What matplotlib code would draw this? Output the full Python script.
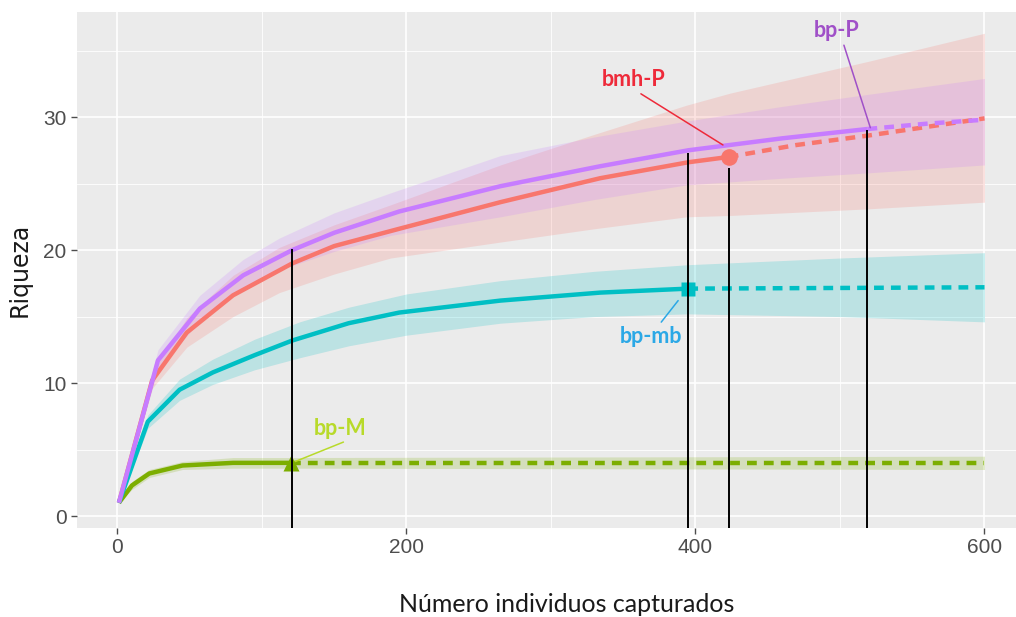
import numpy as np
import matplotlib
matplotlib.use("Agg")
import matplotlib.pyplot as plt

# bp-P (observed up to n=519, then extrapolated)
p_x = [1, 28, 57, 87, 121, 150, 195, 265, 334, 395, 460, 519]
p_y = [1, 11.7, 15.6, 18.1, 20.0, 21.3, 22.9, 24.8, 26.3, 27.5, 28.4, 29.1]
p_ext_x = [519, 560, 600]
p_ext_y = [29.1, 29.5, 29.8]
p_band_x = [1, 28, 57, 87, 112, 150, 189, 265, 330, 394, 460, 519, 600]
p_lo = [1, 11.0, 14.7, 17.1, 18.5, 19.9, 21.1, 22.5, 23.8, 24.9, 25.4, 25.8, 26.4]
p_hi = [1, 12.5, 16.6, 19.3, 20.9, 22.8, 24.3, 27.1, 28.5, 29.7, 30.8, 31.7, 32.9]

# bmh-P
r_x = [1, 24, 48, 80, 121, 150, 195, 265, 334, 395, 423]
r_y = [1, 10.2, 13.8, 16.6, 19.0, 20.3, 21.6, 23.6, 25.4, 26.6, 27.0]
r_ext_x = [423, 470, 519, 600]
r_ext_y = [27.0, 27.9, 28.6, 29.9]
r_band_x = [1, 24, 48, 80, 112, 150, 189, 265, 330, 394, 424, 520, 600]
r_lo = [1, 9.6, 12.7, 15.0, 16.8, 18.2, 19.4, 20.6, 21.6, 22.5, 22.6, 23.1, 23.6]
r_hi = [1, 10.8, 14.9, 18.1, 20.2, 21.9, 23.4, 26.4, 28.7, 30.9, 31.8, 34.2, 36.3]

# bp-mb
c_x = [1, 21, 43, 66, 95, 121, 160, 195, 265, 334, 395]
c_y = [1, 7.1, 9.5, 10.8, 12.1, 13.2, 14.5, 15.3, 16.2, 16.8, 17.1]
c_ext_x = [395, 500, 600]
c_ext_y = [17.1, 17.15, 17.2]
c_band_x = [1, 21, 43, 66, 95, 126, 160, 200, 265, 330, 395, 500, 600]
c_lo = [1, 6.6, 8.7, 9.9, 11.0, 11.9, 12.8, 13.6, 14.5, 15.0, 15.2, 15.0, 14.6]
c_hi = [1, 7.6, 10.3, 11.8, 13.3, 14.6, 15.7, 16.7, 17.7, 18.4, 18.9, 19.4, 19.8]

# bp-M
g_x = [1, 10, 22, 45, 80, 120]
g_y = [1, 2.3, 3.2, 3.8, 4.0, 4.0]
g_ext_x = [120, 600]
g_ext_y = [4.0, 4.0]
g_band_x = [1, 10, 22, 45, 80, 120, 600]
g_lo = [1, 2.0, 2.9, 3.5, 3.6, 3.6, 3.5]
g_hi = [1, 2.6, 3.5, 4.1, 4.4, 4.4, 4.5]

# vertical reference lines (sample size, top of line)
cut_x = [121, 395, 423, 519]
cut_top = [20.1, 27.3, 26.2, 29.0]

RED, GREEN, CYAN, PURPLE = "#F8766D", "#7CAE00", "#00BFC4", "#C77CFF"

tick_font = ["Liberation Sans Narrow", "Liberation Sans", "DejaVu Sans"]

fig = plt.figure(figsize=(10.16, 6.17), dpi=100)
ax = fig.add_axes([0.0758, 0.1442, 0.9242, 0.8364])
ax.set_facecolor("#EBEBEB")
ax.set_xlim(-28, 621.8)
ax.set_ylim(-0.9, 37.9)

# ggplot style grid
ax.set_xticks([0, 200, 400, 600])
ax.set_xticks([100, 300, 500], minor=True)
ax.set_yticks([0, 10, 20, 30])
ax.set_yticks([5, 15, 25, 35], minor=True)
ax.grid(which="major", color="white", lw=1.2)
ax.grid(which="minor", color="white", lw=0.6)
ax.set_axisbelow(True)
for s in ax.spines.values():
    s.set_visible(False)
ax.tick_params(which="major", length=4, width=1, color="#4D4D4D", labelcolor="#4D4D4D", labelsize=15)
ax.tick_params(which="minor", length=0)
for lab in ax.get_xticklabels() + ax.get_yticklabels():
    lab.set_family(tick_font)

# confidence bands
ax.fill_between(r_band_x, r_lo, r_hi, color=RED, alpha=0.2, lw=0)
ax.fill_between(g_band_x, g_lo, g_hi, color=GREEN, alpha=0.2, lw=0)
ax.fill_between(c_band_x, c_lo, c_hi, color=CYAN, alpha=0.2, lw=0)
ax.fill_between(p_band_x, p_lo, p_hi, color=PURPLE, alpha=0.2, lw=0)

lw = 3.2
dash = (0, (2.2, 1.6))
for xs, ys, ex, ey, col in [(r_x, r_y, r_ext_x, r_ext_y, RED),
                            (g_x, g_y, g_ext_x, g_ext_y, GREEN),
                            (c_x, c_y, c_ext_x, c_ext_y, CYAN),
                            (p_x, p_y, p_ext_x, p_ext_y, PURPLE)]:
    ax.plot(xs, ys, color=col, lw=lw, solid_capstyle="butt")
    ax.plot(ex, ey, color=col, lw=lw, linestyle=dash)

# observed sample points
ax.plot(g_x[-1], g_y[-1], marker="^", ms=11, color=GREEN, mec="none")
ax.plot(c_x[-1], c_y[-1], marker="s", ms=10, color=CYAN, mec="none")
ax.plot(r_x[-1], r_y[-1], marker="o", ms=12, color=RED, mec="none")

ax.vlines(cut_x, -0.9, cut_top, color="black", lw=1.4)

lab_font = ["Lato", "DejaVu Sans"]
notes = [
    ("bmh-P", (357, 32.8), (419, 27.9), "#EE2A3A", (0.53, 0)),
    ("bp-P", (498, 36.5), (521, 29.2), "#A050C8", (0.62, 0)),
    ("bp-mb", (369, 13.5), (388, 16.2), "#2BA8E6", (0.62, 1)),
    ("bp-M", (154, 6.6), (123, 4.1), "#B8DA2A", (0.72, 0)),
]
for txt, pos, tip, col, rp in notes:
    ax.annotate(txt, xy=tip, xytext=pos, ha="center", va="center",
                fontsize=15.5, fontweight="bold", color=col, family=lab_font,
                arrowprops=dict(arrowstyle="-", color=col, lw=1.1,
                                relpos=rp, shrinkA=1, shrinkB=0))

ax.set_ylabel("Riqueza", fontsize=17, color="#1A1A1A", labelpad=8,
              family=["DejaVu Sans"])
fig.text(0.558, 0.02, "Número individuos capturados", ha="center", va="center",
         fontsize=18, color="#1A1A1A", family=lab_font)

fig.savefig("out.png", dpi=100)
